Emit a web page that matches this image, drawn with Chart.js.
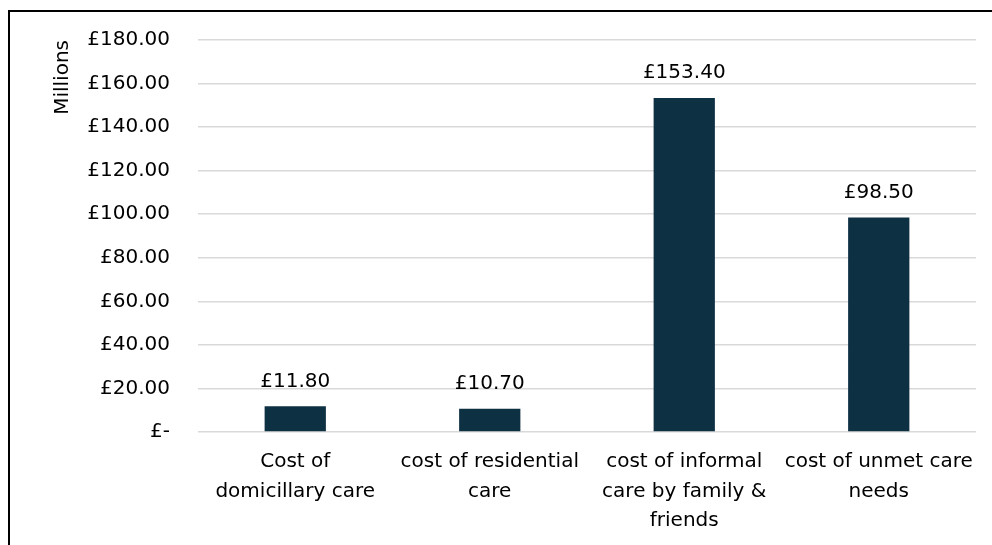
<!DOCTYPE html>
<html>
<head>
<meta charset="utf-8">
<script src="https://cdn.jsdelivr.net/npm/chart.js@4/dist/chart.umd.min.js"></script>
<style>
  html, body { margin: 0; padding: 0; background: #fff; overflow: hidden; }
  #frame { position: absolute; left: 8px; top: 10px; width: 1100px; height: 700px; border-left: 2px solid #000; border-top: 2px solid #000; }
  #wrap { position: absolute; left: 0; top: 0; width: 992px; height: 545px; }
</style>
</head>
<body>
<div id="frame"></div>
<div id="wrap"><canvas id="c" width="992" height="545"></canvas></div>
<script>
const categories = [
  ["Cost of", "domicillary care"],
  ["cost of residential", "care"],
  ["cost of informal", "care by family &", "friends"],
  ["cost of unmet care", "needs"]
];
const values = [11.80, 10.70, 153.40, 98.50];
const yTicksMin = 0, yTicksMax = 180, yTickStep = 20;
const axisTitle = "Millions";

const FONT = "'DejaVu Sans', sans-serif";
const fmt = v => v === 0 ? "£-" : "£" + v.toFixed(2);

const labelPlugin = {
  id: 'barLabels',
  afterDatasetsDraw(chart) {
    const ctx = chart.ctx;
    const meta = chart.getDatasetMeta(0);
    ctx.save();
    ctx.font = "20px " + FONT;
    ctx.fillStyle = "#000";
    ctx.textAlign = "center";
    ctx.textBaseline = "middle";
    meta.data.forEach((bar, i) => {
      ctx.fillText(fmt(values[i]), bar.x, bar.y - 25);
    });
    ctx.restore();
  }
};

new Chart(document.getElementById('c'), {
  type: 'bar',
  data: {
    labels: categories,
    datasets: [{
      data: values,
      backgroundColor: '#0e3043',
      barPercentage: 0.63,
      categoryPercentage: 0.5
    }]
  },
  options: {
    responsive: false,
    animation: false,
    devicePixelRatio: 1,
    layout: { padding: { left: 40, top: 40, right: 16, bottom: 0 } },
    plugins: { legend: { display: false }, tooltip: { enabled: false } },
    scales: {
      x: {
        grid: { display: false, drawTicks: false },
        border: { display: false },
        ticks: { color: '#000', font: { family: FONT, size: 20, lineHeight: 1.48 }, padding: 15, maxRotation: 0, autoSkip: false },
        afterFit(s) { s.height = 113; }
      },
      y: {
        min: yTicksMin, max: yTicksMax,
        grid: { color: '#d9d9d9', lineWidth: 1.5, drawTicks: false },
        border: { display: false },
        ticks: { stepSize: yTickStep, color: '#000', font: { family: FONT, size: 20 }, padding: 28, callback: v => fmt(v) },
        title: { display: true, text: axisTitle, align: 'end', color: '#000', font: { family: FONT, size: 20 }, padding: { top: 11, bottom: 0 } },
        afterFit(s) { s.width = 158; }
      }
    }
  },
  plugins: [labelPlugin]
});
</script>
</body>
</html>
